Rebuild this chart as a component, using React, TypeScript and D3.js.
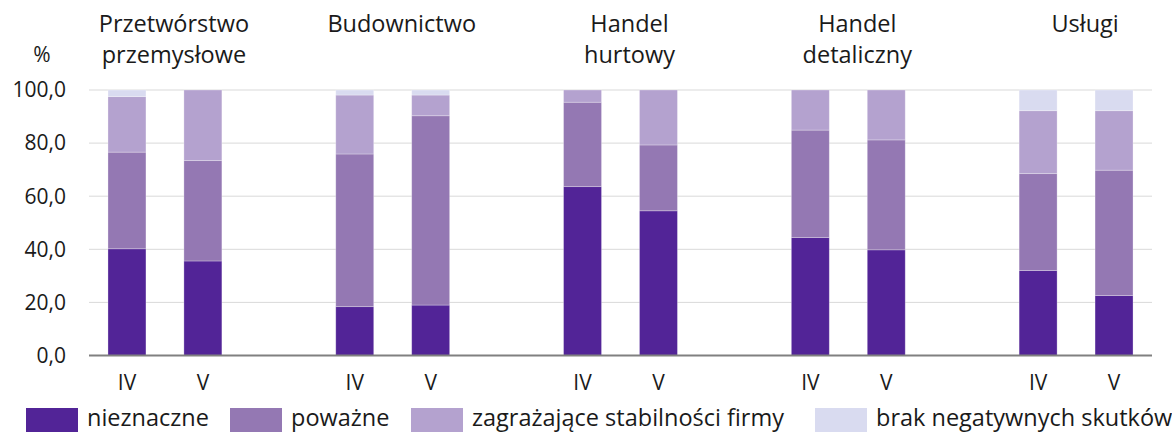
import React from "react";
import * as d3 from "d3";

const groups = ["Przetwórstwo przemysłowe", "Budownictwo", "Handel hurtowy", "Handel detaliczny", "Usługi"];
const groupLines = [["Przetwórstwo", "przemysłowe"], ["Budownictwo"], ["Handel", "hurtowy"], ["Handel", "detaliczny"], ["Usługi"]];
const periods = ["IV", "V"];
const seriesNames = ["nieznaczne", "poważne", "zagrażające stabilności firmy", "brak negatywnych skutków"];
const colors = ["#522497", "#9478b3", "#b4a2cf", "#d9dbf0"];

// values per group: [IV, V]
const nieznaczne = [[40.2, 35.6], [18.4, 19.0], [63.6, 54.5], [44.4, 39.8], [32.0, 22.6]];
const powazne = [[36.4, 37.8], [57.5, 71.3], [31.8, 24.8], [40.5, 41.4], [36.5, 47.2]];
const zagrazajace = [[20.9, 26.6], [22.2, 7.8], [4.6, 20.7], [15.1, 18.8], [23.7, 22.4]];
const brak = [[2.5, 0], [1.9, 1.9], [0, 0], [0, 0], [7.8, 7.8]];

const yTicks = [0, 20, 40, 60, 80, 100];

const W = 1172;
const H = 432;
const left = 89;
const right = 1152;
const top = 90;
const bottom = 355.5;
const font = "'Open Sans', sans-serif";
const fs = 21;
const fsBig = 23.5;

export default function App() {
  const series = [nieznaczne, powazne, zagrazajace, brak];
  // 3 slots per group (IV, V, gap), last gap dropped
  const slots = d3.range(groups.length * 3 - 1);
  const x = d3.scaleBand<number>().domain(slots).range([left, right]).paddingInner(0.5).paddingOuter(0.25);
  const y = d3.scaleLinear().domain([0, 100]).range([bottom, top]);
  const fmt = (v: number) => d3.format(".1f")(v).replace(".", ",");

  const bars: React.ReactNode[] = [];
  groups.forEach((g, gi) => {
    periods.forEach((p, pi) => {
      const slot = gi * 3 + pi;
      let acc = 0;
      series.forEach((s, si) => {
        const v = s[gi][pi];
        if (v <= 0) return;
        const y0 = y(acc);
        acc += v;
        const y1 = y(acc);
        bars.push(
          <rect key={`${gi}-${pi}-${si}`} x={x(slot)} y={y1} width={x.bandwidth()} height={y0 - y1}
            fill={colors[si]} stroke="#ffffff" strokeOpacity={0.35} strokeWidth={0.8} />
        );
      });
    });
  });

  return (
    <svg width={W} height={H} style={{ display: "block", position: "absolute", left: 0, top: 0 }} fontFamily={font}>
      <rect width={W} height={H} fill="#ffffff" />
      {yTicks.map((t) => (
        <g key={t}>
          {t > 0 && <line x1={left} x2={right} y1={y(t)} y2={y(t)} stroke="#d9d9d9" strokeWidth={1} />}
          <text x={66} y={y(t)} dy="0.35em" textAnchor="end" fontSize={fs} fill="#1a1a1a">{fmt(t)}</text>
        </g>
      ))}
      <text x={42} y={55} dy="0.35em" textAnchor="middle" fontSize={fs} fill="#1a1a1a">%</text>
      {bars}
      <line x1={left} x2={right} y1={y(0)} y2={y(0)} stroke="#808080" strokeWidth={2} />
      {groups.map((g, gi) => {
        const cx = (x(gi * 3)! + x(gi * 3 + 1)! + x.bandwidth()) / 2 + 9;
        return (
          <g key={g}>
            {periods.map((p, pi) => (
              <text key={p} x={x(gi * 3 + pi)! + x.bandwidth() / 2} y={383} dy="0.35em" textAnchor="middle" fontSize={fs} fill="#1a1a1a">{p}</text>
            ))}
            {groupLines[gi].map((l, li) => (
              <text key={l} x={cx} y={24 + li * 31} dy="0.35em" textAnchor="middle" fontSize={fsBig} fill="#1a1a1a">{l}</text>
            ))}
          </g>
        );
      })}
      {seriesNames.map((n, i) => {
        const lx = [26, 230, 411, 815][i];
        return (
          <g key={n}>
            <rect x={lx} y={408} width={52} height={24} fill={colors[i]} />
            <text x={lx + 61} y={425.5} fontSize={fsBig} fill="#1a1a1a">{n}</text>
          </g>
        );
      })}
    </svg>
  );
}
